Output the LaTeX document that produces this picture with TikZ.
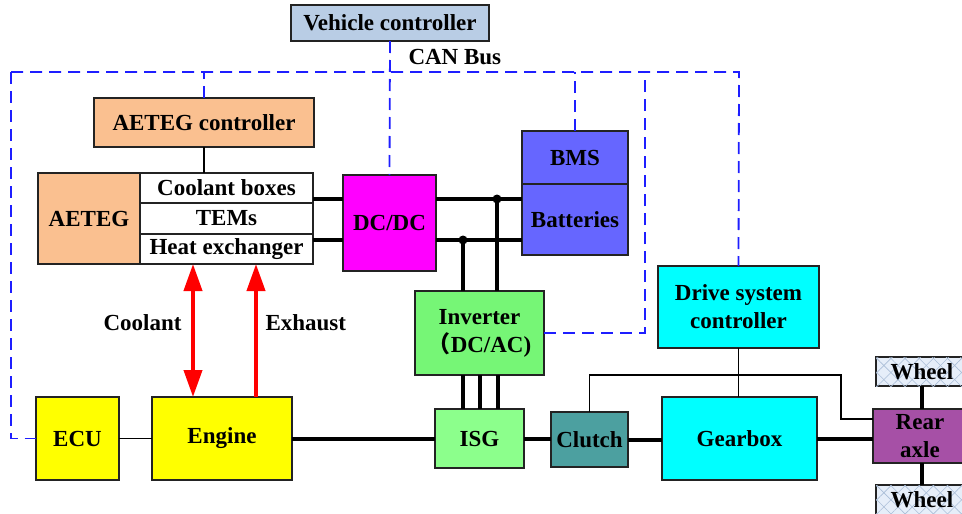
\documentclass[tikz,border=0pt]{standalone}
\usepackage{fontspec}
\setmainfont{Liberation Serif}
\newfontfamily\cjk{Noto Sans CJK SC}
\usetikzlibrary{arrows.meta,patterns.meta,calc}
\definecolor{vcblue}{RGB}{185,205,229}
\definecolor{peach}{RGB}{250,192,144}
\definecolor{batblue}{RGB}{102,102,255}
\definecolor{invgreen}{RGB}{118,246,118}
\definecolor{isggreen}{RGB}{140,255,140}
\definecolor{clutchteal}{RGB}{76,160,160}
\definecolor{axlepurple}{RGB}{166,80,166}
\definecolor{canblue}{RGB}{30,30,255}
\definecolor{wheelfill}{RGB}{230,238,249}
\definecolor{wheelline}{RGB}{170,190,215}
\definecolor{edge}{RGB}{35,35,35}
\definecolor{pcyan}{RGB}{0,255,255}
\definecolor{pmagenta}{RGB}{255,0,255}
\definecolor{pyellow}{RGB}{255,255,0}
\begin{document}
\begin{tikzpicture}[x=1pt,y=-1pt,
  every node/.style={font=\fontsize{23}{28}\selectfont\bfseries},
  box/.style={draw=edge, line width=1.8pt, inner sep=0pt, outer sep=0pt, align=center},
  wheelbox/.style={box, fill=wheelfill,
    postaction={pattern={Lines[angle=45,distance=10pt,line width=0.6pt]}, pattern color=wheelline},
    postaction={pattern={Lines[angle=-45,distance=10pt,line width=0.6pt]}, pattern color=wheelline}},
  can/.style={draw=canblue, line width=1.8pt, dash pattern=on 12pt off 7pt},
  thinline/.style={draw=black, line width=1.5pt},
  power/.style={draw=black, line width=4pt},
  redarr/.style={draw=red, line width=4pt},
  dot/.style={circle, fill=black, inner sep=0pt, minimum size=9pt}]

\useasboundingbox (0,0) rectangle (962,514);
\clip (0,0) rectangle (962,514);

% nodes
\node[box, fill=vcblue, minimum width=198pt, minimum height=36pt] (vc) at (390,23) {Vehicle controller};
\node[box, fill=peach, minimum width=220pt, minimum height=49pt] (aetegc) at (204,122.5) {AETEG controller};
\node[box, fill=peach, minimum width=102pt, minimum height=91pt] (aeteg) at (89,218.5) {AETEG};
\node[box, fill=white, minimum width=173pt, minimum height=30pt] (row1) at (226.5,188) {Coolant boxes};
\node[box, fill=white, minimum width=173pt, minimum height=31pt] (row2) at (226.5,218.5) {TEMs};
\node[box, fill=white, minimum width=173pt, minimum height=30pt] (row3) at (226.5,249) {Heat exchanger};
\node[box, fill=pmagenta, minimum width=93pt, minimum height=96pt] (dcdc) at (389.5,223) {DC/DC};
\node[box, fill=batblue, minimum width=106pt, minimum height=53pt] (bms) at (575,157.5) {BMS};
\node[box, fill=batblue, minimum width=106pt, minimum height=71pt] (batt) at (575,219.5) {Batteries};
\node[box, fill=invgreen, minimum width=129pt, minimum height=84pt] (inv) at (479.5,333) {Inverter\\{\cjk （}DC/AC)};
\node[box, fill=pcyan, minimum width=161pt, minimum height=82pt] (dsc) at (738.5,307) {Drive system\\controller};
\node[box, fill=pyellow, minimum width=83pt, minimum height=83pt] (ecu) at (77.5,438.5) {ECU};
\node[box, fill=pyellow, minimum width=140pt, minimum height=83pt] (engine) at (222,438.5) {Engine};
\node[box, fill=isggreen, minimum width=89pt, minimum height=59pt] (isg) at (479.5,438.5) {ISG};
\node[box, fill=clutchteal, minimum width=77pt, minimum height=55pt] (clutch) at (589.5,439.5) {Clutch};
\node[box, fill=pcyan, minimum width=155pt, minimum height=83pt] (gearbox) at (739.5,438.5) {Gearbox};
\node[box, fill=axlepurple, minimum width=94pt, minimum height=54pt] (axle) at (920,436) {Rear\\axle};
\node[wheelbox, minimum width=92pt, minimum height=29pt] (wheel1) at (922,371.5) {Wheel};
\node[wheelbox, minimum width=92pt, minimum height=30pt] (wheel2) at (922,500) {Wheel};

% labels
\node[anchor=base west] (canlbl) at (405,64) {CAN Bus};
\node[anchor=east] (coollbl) at (185,323) {Coolant};
\node[anchor=west] (exhlbl) at (262,323) {Exhaust};

% helper coordinates
\coordinate (busL) at (11,72);
\coordinate (busR) at (739,72);
\coordinate (busI) at (645,72);
\coordinate (yA) at (0,199);
\coordinate (yB) at (0,240);
\coordinate (jA) at (497,199);
\coordinate (jB) at (463,240);
\coordinate (cA) at (193,0);
\coordinate (cB) at (256,0);
\coordinate (k) at (841,375);

% CAN bus
\draw[can] (busL) -- (busR) -- (dsc.north);
\draw[can] (busL) |- (ecu.west);
\draw[can] (vc.south) -- (dcdc.north);
\draw[can] (aetegc.north) -- (aetegc.north |- busL);
\draw[can] (bms.north) -- (bms.north |- busL);
\draw[can] (inv.east) -| (busI);

% thin control lines
\draw[thinline] (aetegc.south) -- (aetegc.south |- row1.north);
\draw[thinline] (ecu.east) -- (engine.west);
\draw[thinline] (dsc.south) -- (dsc.south |- gearbox.north);
\draw[thinline] (clutch.north) |- (k) |- ($(axle.west)+(0,-17)$);

% power lines
\draw[power] (row1.east |- yA) -- (dcdc.west |- yA);
\draw[power] (row3.east |- yB) -- (dcdc.west |- yB);
\draw[power] (dcdc.east |- yA) -- (batt.west |- yA);
\draw[power] (dcdc.east |- yB) -- (batt.west |- yB);
\draw[power] (jA) -- (jA |- inv.north);
\draw[power] (jB) -- (jB |- inv.north);
\node[dot] (dA) at (jA) {};
\node[dot] (dB) at (jB) {};
\draw[power] ($(inv.south)+(-16.5,0)$) -- ($(isg.north)+(-16.5,0)$);
\draw[power] ($(inv.south)+(0,0)$) -- ($(isg.north)+(0,0)$);
\draw[power] ($(inv.south)+(18.5,0)$) -- ($(isg.north)+(18.5,0)$);
\draw[power] (engine.east) -- (isg.west);
\draw[power] (isg.east) -- (isg.east -| clutch.west);
\draw[power] (clutch.east) -- (clutch.east -| gearbox.west);
\draw[power] (gearbox.east) -- (gearbox.east -| axle.west);
\draw[power] (wheel1.south) -- (wheel1.south |- axle.north);
\draw[power] (wheel2.north) -- (wheel2.north |- axle.south);

% red arrows
\draw[redarr, {Triangle[length=27pt,width=18pt]}-{Triangle[length=27pt,width=18pt]}] (row3.south -| cA) -- (engine.north -| cA);
\draw[redarr, -{Triangle[length=27pt,width=18pt]}] (engine.north -| cB) -- (row3.south -| cB);
\end{tikzpicture}
\end{document}
